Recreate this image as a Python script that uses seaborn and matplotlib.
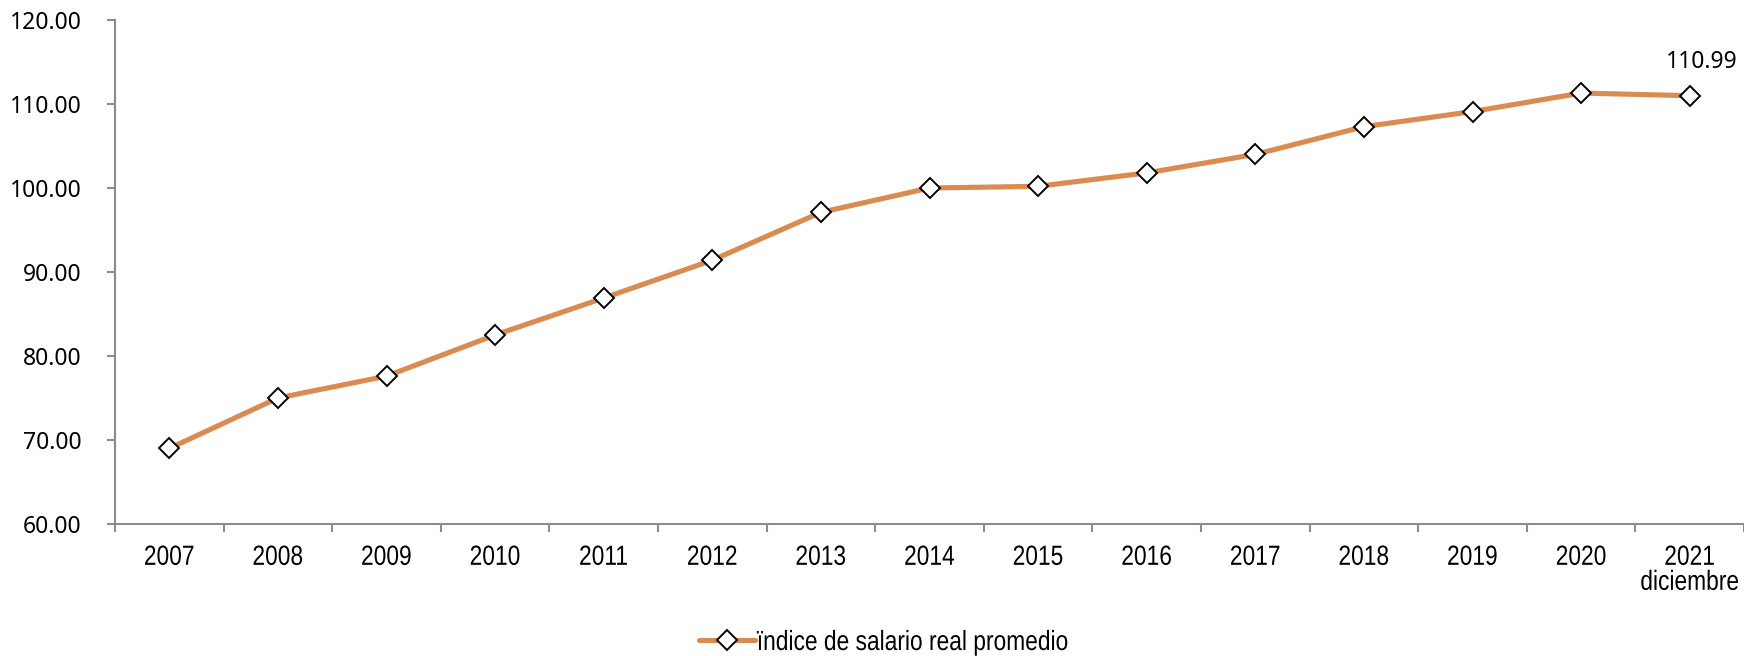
import matplotlib
matplotlib.use("Agg")
import matplotlib.pyplot as plt
from matplotlib import font_manager
from matplotlib.lines import Line2D
from matplotlib.patheffects import AbstractPathEffect
from matplotlib.transforms import Affine2D
import seaborn as sns
import pandas as pd
import numpy as np

# ---- data ----
years = ["2007", "2008", "2009", "2010", "2011", "2012", "2013", "2014",
         "2015", "2016", "2017", "2018", "2019", "2020", "2021\ndiciembre"]
salario_real = [69.0, 75.0, 77.6, 82.5, 86.9, 91.4, 97.1, 100.0,
                100.2, 101.8, 104.0, 107.3, 109.1, 111.3, 110.99]
y_ticks = [60, 70, 80, 90, 100, 110, 120]
series_name = "ïndice de salario real promedio"
last_label = "110.99"

names = {f.name for f in font_manager.fontManager.ttflist}
narrow = "Liberation Sans Narrow" if "Liberation Sans Narrow" in names else "Liberation Sans"
numfont = "Noto Sans" if "Noto Sans" in names else "DejaVu Sans"
squeeze = 1.0 if narrow == "Liberation Sans Narrow" else 0.82


class Condense(AbstractPathEffect):
    """Draw text horizontally condensed (emulates a narrow typeface)."""

    def __init__(self, sx=0.82, anchor="center"):
        super().__init__()
        self.sx = sx
        self.anchor = anchor

    def draw_path(self, renderer, gc, tpath, affine, rgbFace=None):
        v = tpath.vertices
        if len(v):
            cx = v[:, 0].min() if self.anchor == "left" else (v[:, 0].min() + v[:, 0].max()) / 2
        else:
            cx = 0
        t = Affine2D().translate(-cx, 0).scale(self.sx, 1).translate(cx, 0)
        renderer.draw_path(gc, tpath, t + affine, rgbFace)


sns.set_theme(style="white")
plt.rcParams["font.family"] = [narrow, "DejaVu Sans"]

df = pd.DataFrame({"year": years, "value": salario_real, "serie": series_name})

W, H = 1744, 656
fig = plt.figure(figsize=(W / 100, H / 100), dpi=100)
ax = fig.add_axes([115 / W, 1 - 524 / H, 1 - 115 / W, (524 - 20) / H])

line_color = "#DA8B50"
sns.lineplot(data=df, x="year", y="value", ax=ax, sort=False, color=line_color,
             linewidth=3.7, marker="D", markersize=10, markerfacecolor="white",
             markeredgecolor="black", markeredgewidth=1.4, legend=False)

n = len(years)
ax.set_xlim(-0.5, n - 0.5)
ax.set_ylim(60, 120)
ax.set_yticks(y_ticks)
ax.set_yticklabels([f"{v:.2f}" for v in y_ticks], fontsize=16.5, family=numfont)
ax.set_xticks(range(n))
ax.set_xticklabels(years, fontsize=20, family=narrow, linespacing=0.95)
for lbl in ax.get_xticklabels():
    if squeeze != 1.0:
        lbl.set_path_effects([Condense(squeeze, "center")])
ax.set_xticks(np.arange(-0.5, n, 1.0), minor=True)
ax.tick_params(axis="x", which="major", length=0, pad=15, colors="black")
ax.tick_params(axis="x", which="minor", length=6, width=1.5, color="#8c8c8c", bottom=True)
ax.tick_params(axis="y", which="major", length=6, width=1.5, color="#8c8c8c",
               pad=18, left=True, labelcolor="black")
ax.set_xlabel("")
ax.set_ylabel("")

for side in ["top", "right"]:
    ax.spines[side].set_visible(False)
for side in ["left", "bottom"]:
    ax.spines[side].set_color("#8c8c8c")
    ax.spines[side].set_linewidth(1.5)
ax.grid(False)

ax.annotate(last_label, xy=(n - 1, salario_real[-1]), xytext=(8.5, 24),
            textcoords="offset points", ha="center", va="center",
            fontsize=16.5, family=numfont, color="black", annotation_clip=False)

handle = Line2D([], [], color=line_color, linewidth=3.7, marker="D", markersize=10,
                markerfacecolor="white", markeredgecolor="black", markeredgewidth=1.4)
leg = fig.legend([handle], [series_name], loc="center left",
                 bbox_to_anchor=(699 / W, 1 - 643 / H),
                 frameon=False, prop={"family": narrow, "size": 20},
                 handlelength=2.0, handletextpad=0.08, borderpad=0, borderaxespad=0)
for t in leg.get_texts():
    t.set_color("black")
    if squeeze != 1.0:
        t.set_path_effects([Condense(squeeze, "left")])

fig.savefig("out.png", dpi=100)
